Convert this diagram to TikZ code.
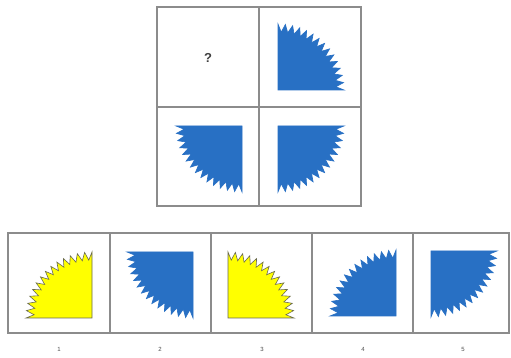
\documentclass[tikz,border=0pt]{standalone}
\usepackage{fontspec}
\setmainfont{Liberation Sans}
\definecolor{qblue}{RGB}{40,112,196}
\definecolor{qyellow}{RGB}{255,255,0}
\definecolor{qedge}{RGB}{105,105,80}
\definecolor{qgrid}{RGB}{140,140,140}
\newcommand{\sawquarter}[5]{% cx, cy, start angle, fill, draw
  \filldraw[fill=#4,draw=#5,line width=0.6pt,line join=miter] (#1,#2)
    \foreach \i in {0,...,28} { -- ({#1+(66-8*mod(\i,2))*cos(#3+\i*90/28)},{#2+(66-8*mod(\i,2))*sin(#3+\i*90/28)}) } -- cycle;}
\tikzset{
  frame/.style={draw=qgrid,line width=1.2pt},
  numlabel/.style={font=\fontsize{6}{7}\selectfont,text=black!70}
}
\begin{document}
\begin{tikzpicture}[x=1pt,y=1pt]
\useasboundingbox[fill=white] (0,0) rectangle (511,358);
% top grid
\draw[frame] (157,152) rectangle (361,351);
\draw[frame] (259,152) -- (259,351);
\draw[frame] (157,251) -- (361,251);
\node[font=\bfseries\fontsize{13}{14}\selectfont,text=black!75] (q) at (208,300) {?};
\sawquarter{278}{268}{0}{qblue}{qblue}
\sawquarter{242}{232}{180}{qblue}{qblue}
\sawquarter{278}{232}{270}{qblue}{qblue}
% answer row
\draw[frame] (8,25) rectangle (509,125);
\foreach \x in {110,211,312,413} { \draw[frame] (\x,25) -- (\x,125); }
\sawquarter{92}{40}{90}{qyellow}{qedge}
\sawquarter{193}{106}{180}{qblue}{qblue}
\sawquarter{228}{40}{0}{qyellow}{qedge}
\sawquarter{396}{42}{90}{qblue}{qblue}
\sawquarter{431}{107}{270}{qblue}{qblue}
\node[numlabel] (l1) at (59,9) {1};
\node[numlabel] (l2) at (160,9) {2};
\node[numlabel] (l3) at (262,9) {3};
\node[numlabel] (l4) at (363,9) {4};
\node[numlabel] (l5) at (463,9) {5};
\end{tikzpicture}
\end{document}
